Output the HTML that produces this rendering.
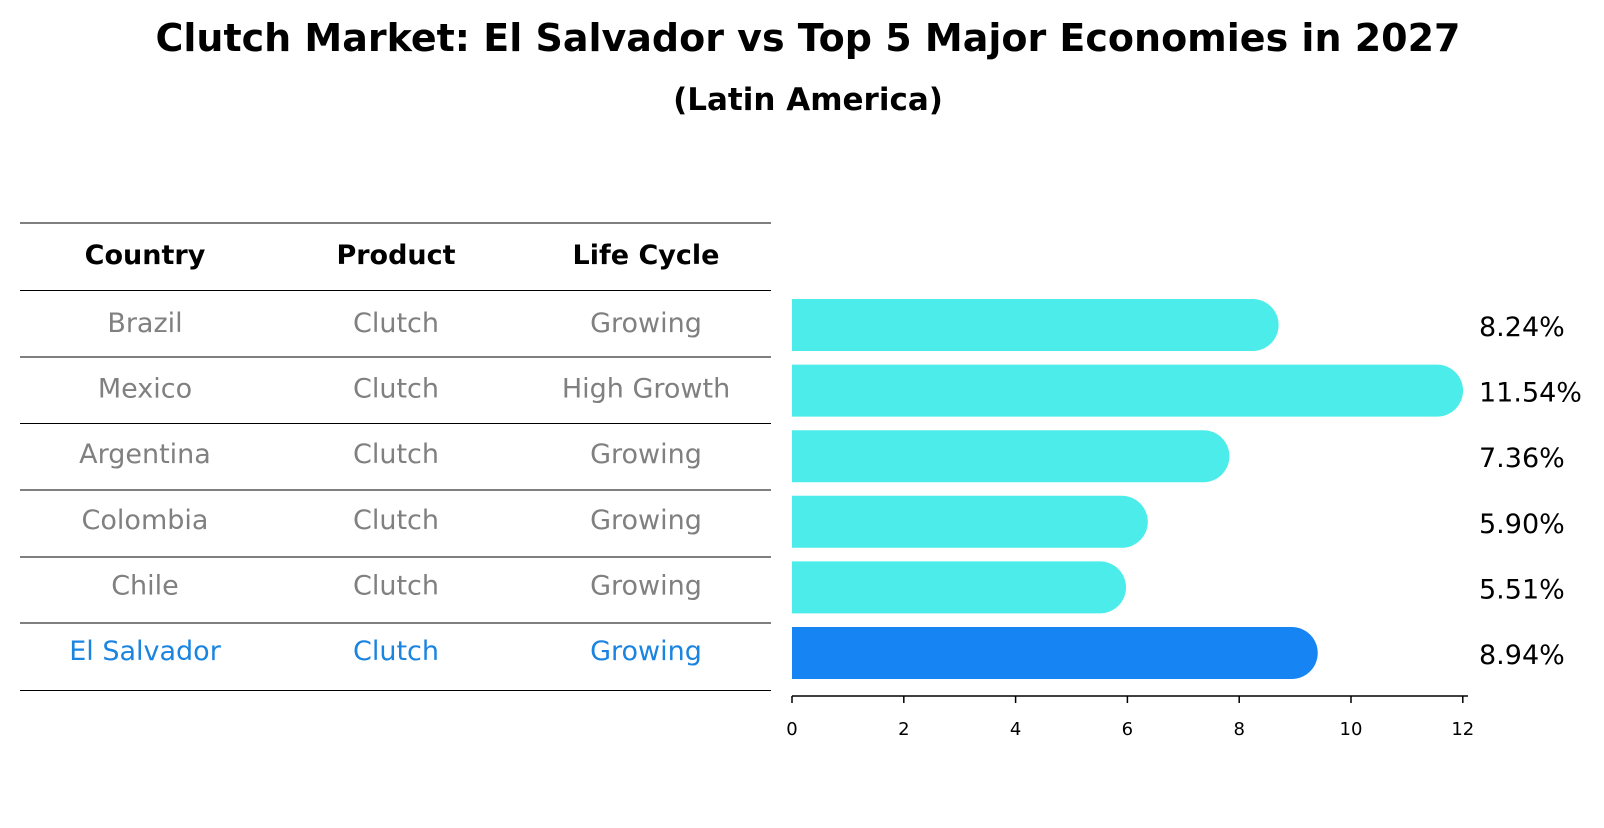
<!DOCTYPE html>
<html><head><meta charset="utf-8"><style>
body{margin:0;background:#fff;font-family:"Liberation Sans","DejaVu Sans",sans-serif;}
svg text{font-family:"DejaVu Sans","Liberation Sans",sans-serif;}
</style></head><body>
<svg width="1604" height="823" viewBox="0 0 1604 823">
<text x="808" y="51" text-anchor="middle" font-size="38" font-weight="bold">Clutch Market: El Salvador vs Top 5 Major Economies in 2027</text>
<text x="808" y="110" text-anchor="middle" font-size="31" font-weight="bold">(Latin America)</text>
<g id="table"></g>
<g id="bars"></g>
</svg>
<script>
const countries=["Brazil","Mexico","Argentina","Colombia","Chile","El Salvador"];
const products=["Clutch","Clutch","Clutch","Clutch","Clutch","Clutch"];
const lifecycles=["Growing","High Growth","Growing","Growing","Growing","Growing"];
const values=[8.24,11.54,7.36,5.90,5.51,8.94];
const valueLabels=["8.24%","11.54%","7.36%","5.90%","5.51%","8.94%"];
const ticks=[0,2,4,6,8,10,12];
const NS="http://www.w3.org/2000/svg";
function mk(tag,attrs,parent){const e=document.createElementNS(NS,tag);for(const k in attrs)e.setAttribute(k,attrs[k]);parent.appendChild(e);return e;}
const x0=792,unit=55.9;
const xs=v=>x0+v*unit;
const rowY=i=>325+i*65.6;
const tbl=document.getElementById('table');
const lines=[223,290.5,357,423.5,490,557,623,690.5];
lines.forEach((y,i)=>{const l=mk('line',{x1:20,x2:771,y1:y,y2:y,stroke:'#000','stroke-width':1},tbl);

});
const cols=[145,396,646];
["Country","Product","Life Cycle"].forEach((h,j)=>{const t=mk('text',{x:cols[j],y:264,'text-anchor':'middle','font-size':27,'font-weight':'bold'},tbl);t.textContent=h;

});
countries.forEach((c,i)=>{
 const col=i===5?'#1a84e0':'#808080';
 [c,products[i],lifecycles[i]].forEach((s,j)=>{const t=mk('text',{x:cols[j],y:rowY(i)+7,'text-anchor':'middle','font-size':27,fill:col},tbl);t.textContent=s;
 
 });
});
const bars=document.getElementById('bars');
const h=52,r=26;
values.forEach((v,i)=>{
 const yc=rowY(i),x1=xs(v);
 const col=i===5?'#1784f4':'#4cecea';
 const d=`M${x0},${yc-h/2} L${x1},${yc-h/2} A${r},${r} 0 0 1 ${x1},${yc+h/2} L${x0},${yc+h/2} Z`;
 const p=mk('path',{d:d,fill:col},bars);
 
 
 const t=mk('text',{x:1479,y:yc+11,'font-size':27,fill:'#000'},bars);t.textContent=valueLabels[i];
 
 
});
const ax=mk('line',{x1:x0,x2:1468,y1:696,y2:696,stroke:'#000','stroke-width':1.5},bars);


ticks.forEach(tk=>{const l=mk('line',{x1:xs(tk),x2:xs(tk),y1:696,y2:703,stroke:'#000','stroke-width':1.5},bars);


const t=mk('text',{x:xs(tk),y:735,'text-anchor':'middle','font-size':18},bars);t.textContent=tk;

});
</script>
</body></html>
